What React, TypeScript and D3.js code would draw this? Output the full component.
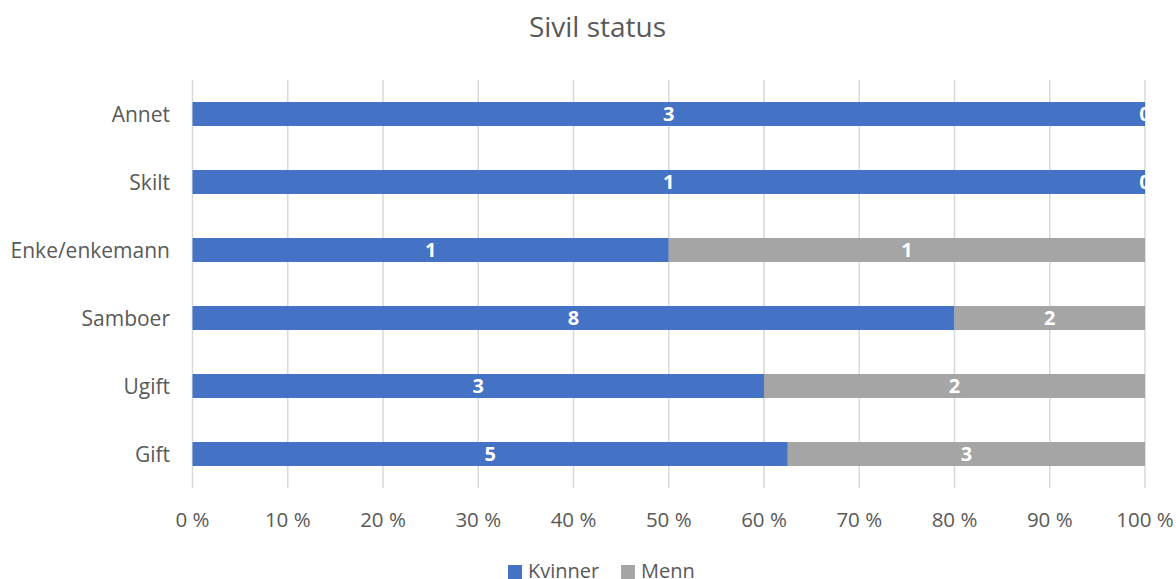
import React from "react";
import * as d3 from "d3";

const categories = ["Annet", "Skilt", "Enke/enkemann", "Samboer", "Ugift", "Gift"];
const kvinner = [3, 1, 1, 8, 3, 5];
const menn = [0, 0, 1, 2, 2, 3];
const seriesNames = ["Kvinner", "Menn"];
const colors = ["#4472C4", "#A5A5A5"];
const ticks = [0, 0.1, 0.2, 0.3, 0.4, 0.5, 0.6, 0.7, 0.8, 0.9, 1.0];
const title = "Sivil status";

const W = 1176;
const H = 579;
const left = 192.5;
const right = 1145;
const top = 80;
const bottom = 488;
const font = "'Open Sans', sans-serif";
const textColor = "#595959";

export default function App() {
  const x = d3.scaleLinear().domain([0, 1]).range([left, right]);
  const y = d3.scaleBand().domain(categories).range([top, bottom]).paddingInner(0.647).paddingOuter(0.3235);
  const rows = categories.map((c, i) => {
    const total = kvinner[i] + menn[i];
    return { c, vals: [kvinner[i], menn[i]], total };
  });
  const stack = d3.stack<any>().keys(["0", "1"]).value((d: any, k: string) => d.vals[+k] / d.total);
  const series = stack(rows as any);
  const bh = y.bandwidth();

  return (
    <svg width={W} height={H} style={{ position: "absolute", left: 0, top: 0, background: "#fff" }} fontFamily={font}>
      <text x={597.5} y={37} textAnchor="middle" fontSize={28} fill={textColor}>{title}</text>
      {ticks.map((t) => (
        <line key={"g" + t} x1={x(t)} x2={x(t)} y1={top} y2={bottom} stroke="#D9D9D9" strokeWidth={1.5} />
      ))}
      {ticks.map((t) => (
        <text key={"t" + t} x={x(t)} y={527} textAnchor="middle" fontSize={20.5} fill={textColor}>
          {d3.format(".0f")(t * 100) + " %"}
        </text>
      ))}
      {categories.map((c) => (
        <text key={"c" + c} x={170} y={(y(c) as number) + bh / 2 + 7.5} textAnchor="end" fontSize={21} fill={textColor}>{c}</text>
      ))}
      {series.map((s, si) =>
        s.map((d: any, i: number) => (
          <rect key={"r" + si + i} x={x(d[0])} y={y(categories[i]) as number} width={x(d[1]) - x(d[0])} height={bh} fill={colors[si]} />
        ))
      )}
      {series.map((s, si) =>
        s.map((d: any, i: number) => (
          <text key={"l" + si + i} x={(x(d[0]) + x(d[1])) / 2} y={(y(categories[i]) as number) + bh / 2 + 7} textAnchor="middle" fontSize={20} fontWeight="bold" fill="#fff">
            {rows[i].vals[si]}
          </text>
        ))
      )}
      {seriesNames.map((n, i) => {
        const lx = [508, 621][i];
        return (
          <g key={"lg" + n}>
            <rect x={lx} y={565} width={14} height={14} fill={colors[i]} />
            <text x={lx + 20} y={578} fontSize={20} fill={textColor}>{n}</text>
          </g>
        );
      })}
    </svg>
  );
}
